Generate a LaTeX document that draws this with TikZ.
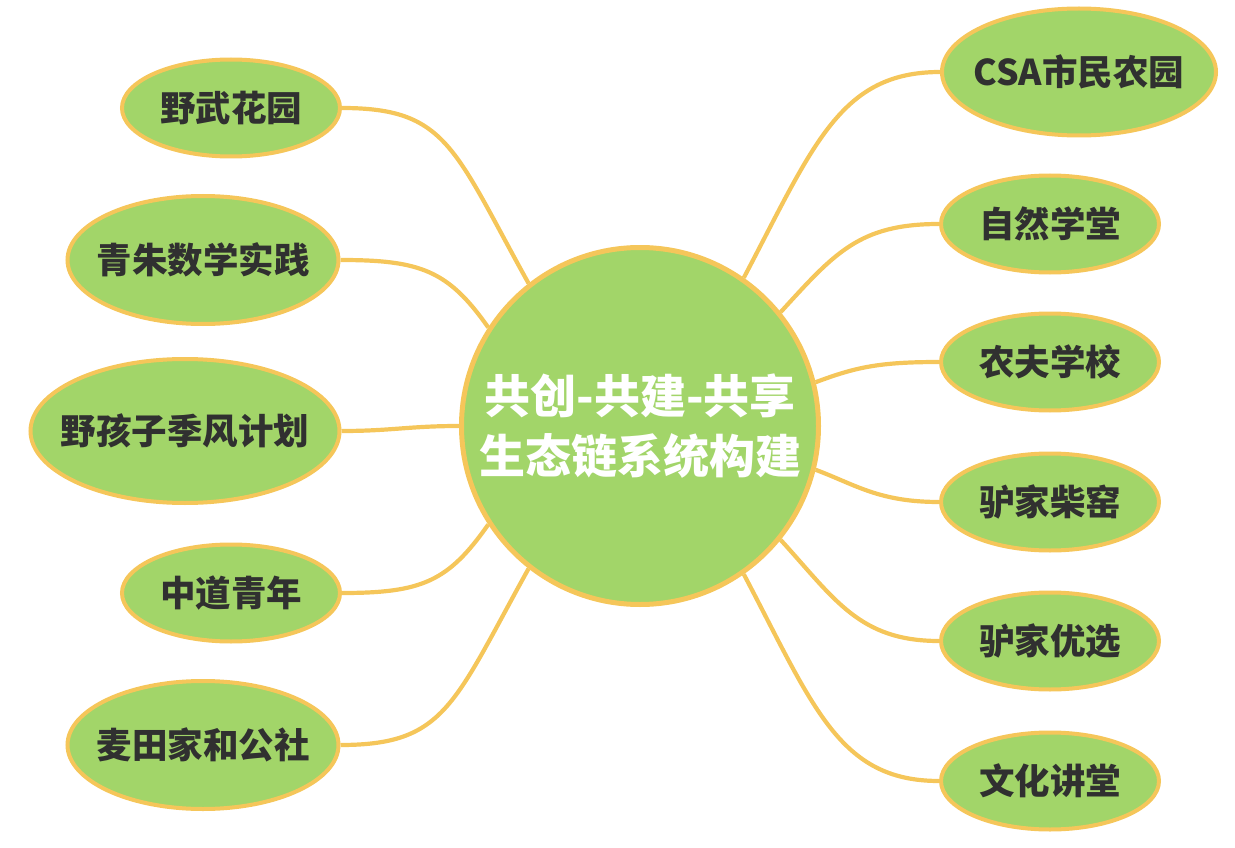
\documentclass[tikz,border=0pt]{standalone}
\usepackage{fontspec}
\setmainfont{Noto Sans CJK SC}
\usetikzlibrary{shapes.geometric,backgrounds}
\definecolor{leaf}{HTML}{A2D569}
\definecolor{gold}{HTML}{F5C65A}
\definecolor{ink}{HTML}{303030}
\newcommand\flatlabel[1]{\makebox[0pt]{#1}}
\begin{document}
\begin{tikzpicture}[x=1pt,y=-1pt,
  topic/.style={ellipse, draw=gold, line width=4pt, fill=leaf, inner sep=0pt, text=ink,
    font=\fontsize{35.5}{40}\selectfont\bfseries},
  small/.style={minimum width=218pt, minimum height=97pt},
  wide/.style={minimum width=271pt, minimum height=128pt},
  hub/.style={circle, draw=gold, line width=5pt, fill=leaf, inner sep=0pt, minimum size=357pt,
    text=white, align=center, font=\fontsize{46}{60}\selectfont\bfseries},
  conn/.style={draw=gold, line width=4.2pt}]
\useasboundingbox (0,0) rectangle (1235,848);
\node[hub] (c) at (640,426) {共创-共建-共享\\生态链系统构建};
% left
\node[topic, small] (l1) at (231,108) {\flatlabel{野武花园}};
\node[topic, wide] (l2) at (203,260) {\flatlabel{青朱数学实践}};
\node[topic, minimum width=309pt, minimum height=144pt] (l3) at (185,431) {\flatlabel{野孩子季风计划}};
\node[topic, small] (l4) at (231,593) {\flatlabel{中道青年}};
\node[topic, wide] (l5) at (203,745) {\flatlabel{麦田家和公社}};
% right
\node[topic, minimum width=274pt, minimum height=127pt] (r1) at (1079,72) {\flatlabel{CSA市民农园}};
\node[topic, small] (r2) at (1050,224) {\flatlabel{自然学堂}};
\node[topic, small] (r3) at (1050,362) {\flatlabel{农夫学校}};
\node[topic, small] (r4) at (1050,502) {\flatlabel{驴家柴窑}};
\node[topic, small] (r5) at (1050,641) {\flatlabel{驴家优选}};
\node[topic, small] (r6) at (1050,781) {\flatlabel{文化讲堂}};
\begin{scope}[on background layer]
\draw[conn] (l1.east) .. controls +(105,0) and +(-75,-135) .. (c.128);
\draw[conn] (l2.east) .. controls +(80,0) and +(-40,-57) .. (c.147);
\draw[conn] (l3.east) .. controls +(50,0) and +(-50,0) .. (c.180);
\draw[conn] (l4.east) .. controls +(80,0) and +(-40,57) .. (c.213);
\draw[conn] (l5.east) .. controls +(105,0) and +(-75,135) .. (c.232);
\draw[conn] (c.55) .. controls +(70,-133) and +(-100,0) .. (r1.west);
\draw[conn] (c.39) .. controls +(54,-59) and +(-80,0) .. (r2.west);
\draw[conn] (c.14) .. controls +(40,-15) and +(-60,0) .. (r3.west);
\draw[conn] (c.-14) .. controls +(40,15) and +(-60,0) .. (r4.west);
\draw[conn] (c.-39) .. controls +(54,59) and +(-80,0) .. (r5.west);
\draw[conn] (c.-55) .. controls +(70,133) and +(-100,0) .. (r6.west);
\end{scope}
\end{tikzpicture}
\end{document}
